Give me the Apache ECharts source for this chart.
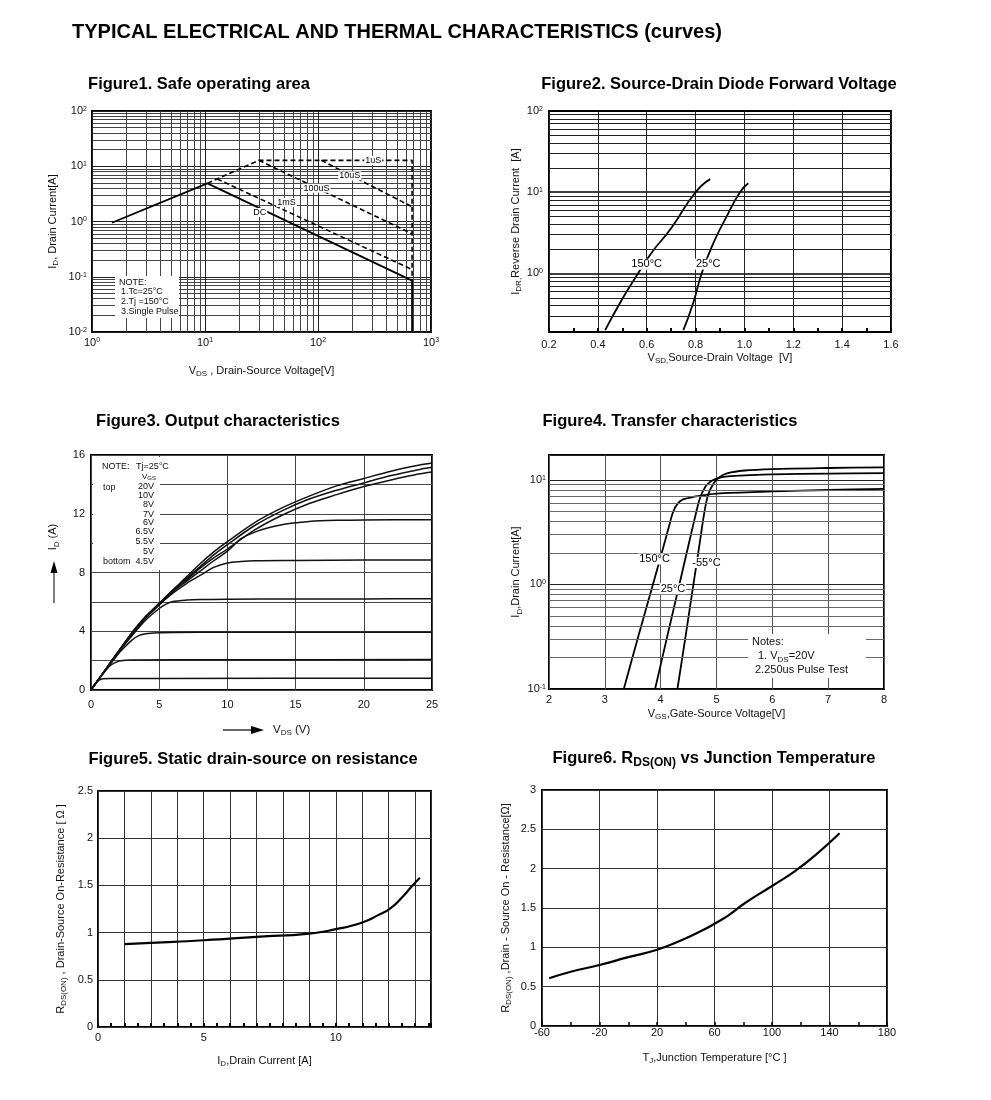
<!DOCTYPE html>
<html><head><meta charset="utf-8">
<script src="https://cdn.jsdelivr.net/npm/echarts@6/dist/echarts.min.js"></script>
<style>html,body{margin:0;padding:0;background:#fff}#c{width:991px;height:1100px}</style>
</head><body><div id="c"></div>
<script>
const FONT = "'Liberation Sans', Arial, sans-serif";

// ---------- Figure 1: Safe operating area (VDS [V], ID [A]) ----------
const soaDC    = [[1.5, 0.95], [10.5, 4.9], [680, 0.085], [680, 0.01]];
const soa1us   = [[10.5, 4.9], [30, 12.8], [680, 12.8], [680, 0.085]];
const soa10us  = [[107, 12.8], [680, 1.85]];
const soa100us = [[30, 12.8], [680, 0.6]];
const soa1ms   = [[12.8, 5.9], [680, 0.135]];
const soaLabelText = ['1uS', '10uS', '100uS', '1mS', 'DC'];
const soaLabelPos  = [[308, 12.8], [191, 6.7], [97, 4.0], [52.6, 2.2], [30.5, 1.46]];
const soaNote = ['NOTE:', '1.Tc=25°C', '2.Tj =150°C', '3.Single Pulse'];

// ---------- Figure 2: Source-drain diode forward voltage ----------
const vsd150 = [[0.43, 0.2], [0.49, 0.43], [0.56, 0.95], [0.62, 1.8], [0.70, 3.6], [0.80, 10], [0.86, 14.5]];
const vsd25  = [[0.75, 0.2], [0.79, 0.43], [0.825, 1.0], [0.873, 2.36], [0.927, 5.0], [0.982, 10], [1.016, 12.9]];
const vsdLabelText = ['150°C', '25°C'];
const vsdLabelPos  = [[0.6, 1.3], [0.852, 1.3]];
const vsdMinorGrid = [0.3, 0.4, 0.5, 0.6, 0.7, 0.8, 0.9, 2, 3, 4, 5, 6, 7, 8, 9, 20, 30, 40, 50, 60, 70, 80, 90];

// ---------- Figure 3: Output characteristics (VDS [V], ID [A]) ----------
const outVgs20  = [[0,0],[1,1.3],[2,2.6],[3,3.9],[4,5.0],[5,5.9],[6,6.8],[7,7.7],[8,8.6],[9,9.4],[10,10.1],[12,11.4],[14,12.4],[16,13.2],[18,13.9],[20,14.4],[22,14.9],[24,15.3],[25,15.45]];
const outVgs10  = [[0,0],[1,1.3],[2,2.6],[3,3.9],[4,5.0],[5,5.9],[6,6.8],[7,7.6],[8,8.4],[9,9.2],[10,9.9],[12,11.2],[14,12.2],[16,13.0],[18,13.6],[20,14.1],[22,14.6],[24,15.0],[25,15.16]];
const outVgs8   = [[0,0],[1,1.3],[2,2.6],[3,3.8],[4,4.9],[5,5.8],[6,6.7],[7,7.5],[8,8.3],[9,9.0],[10,9.6],[12,10.9],[14,11.9],[16,12.7],[18,13.3],[20,13.85],[22,14.3],[24,14.7],[25,14.84]];
const outVgs7   = [[0,0],[1,1.3],[2,2.6],[3,3.8],[4,4.9],[5,5.8],[6,6.7],[7,7.4],[8,8.1],[9,8.8],[10,9.45],[11,10.3],[12,10.75],[13,11.05],[14,11.25],[15,11.38],[16,11.48],[18,11.55],[20,11.58],[25,11.6]];
const outVgs6   = [[0,0],[1,1.3],[2,2.55],[3,3.7],[4,4.75],[5,5.55],[5.5,5.85],[6,6.02],[7,6.12],[8,6.16],[10,6.18],[15,6.2],[20,6.2],[25,6.22]];
const outVgs65  = [[0,0],[1,1.3],[2,2.6],[3,3.8],[4,4.9],[5,5.8],[6,6.6],[7,7.25],[8,7.8],[9,8.35],[10,8.65],[11,8.75],[12,8.8],[15,8.82],[20,8.85],[25,8.85]];
const outVgs55  = [[0,0],[1,1.25],[2,2.45],[2.5,2.95],[3,3.4],[3.5,3.7],[4,3.83],[5,3.9],[6,3.92],[10,3.93],[25,3.93]];
const outVgs5   = [[0,0],[0.5,0.65],[1,1.25],[1.5,1.72],[2,1.95],[2.5,2.03],[3,2.05],[10,2.06],[25,2.07]];
const outVgs45  = [[0,0],[0.3,0.45],[0.6,0.68],[0.9,0.76],[1.5,0.78],[5,0.79],[25,0.8]];
const outVgsLabels = ['20V', '10V', '8V', '7V', '6V', '6.5V', '5.5V', '5V', '4.5V'];

// ---------- Figure 4: Transfer characteristics (VGS [V], ID [A]) ----------
const tr150 = [[3.34,0.1],[3.6,0.32],[3.85,0.95],[4.05,2.3],[4.15,3.6],[4.22,4.9],[4.3,5.9],[4.4,6.5],[4.6,6.9],[5.0,7.4],[6.0,7.75],[7.0,8.0],[8.0,8.2]];
const tr25  = [[3.9,0.1],[4.1,0.29],[4.3,0.83],[4.5,2.4],[4.62,4.5],[4.7,6.6],[4.8,8.6],[4.9,9.7],[5.0,10.3],[5.2,10.8],[5.6,11.1],[6,11.3],[7,11.5],[8,11.6]];
const trM55 = [[4.3,0.1],[4.45,0.33],[4.6,1.12],[4.7,2.5],[4.78,4.8],[4.85,7.2],[4.95,9.3],[5.05,10.6],[5.2,11.6],[5.5,12.3],[6,12.7],[7,13.0],[8,13.2]];
const trLabelText = ['150°C', '25°C', '-55°C'];
const trLabelPos  = [[3.89, 1.75], [4.22, 0.91], [4.82, 1.62]];
const trMinorGrid = [0.2, 0.3, 0.4, 0.5, 0.6, 0.7, 0.8, 0.9, 2, 3, 4, 5, 6, 7, 8, 9];

// ---------- Figure 5: RDS(on) vs ID ----------
const rdsId = [[2.0,0.877],[3.0,0.891],[5.0,0.919],[7.0,0.955],[9.0,0.99],[10.0,1.036],[11.0,1.107],[11.6,1.185],[12.05,1.255],[12.5,1.372],[12.86,1.485],[13.18,1.58]];
const rdsIdTickText = {1: '0', 5: '5', 10: '10'};

// ---------- Figure 6: RDS(on) vs Tj ----------
const rdsTj = [[-55,0.606],[-40,0.69],[-20,0.775],[0,0.875],[20,0.97],[37,1.09],[51,1.21],[60,1.3],[70,1.41],[81,1.56],[100,1.78],[116,1.97],[130,2.17],[147,2.45]];

const figTitles = ['Figure1. Safe operating area', 'Figure2. Source-Drain Diode Forward Voltage',
  'Figure3. Output characteristics', 'Figure4. Transfer characteristics',
  'Figure5. Static drain-source on resistance', '{b|Figure6. R}{bs|DS(ON)}{b| vs Junction Temperature}'];
const mainTitle = 'TYPICAL ELECTRICAL AND THERMAL CHARACTERISTICS (curves)';

// ---------- helpers ----------
function R(size, weight) {
  const w = weight || 'normal';
  return {
    m:   {fontSize: size, fontFamily: FONT, color: '#111', fontWeight: w, verticalAlign: 'top'},
    sub: {fontSize: Math.round(size * 0.72), fontFamily: FONT, color: '#111', fontWeight: w, verticalAlign: 'top', padding: [Math.round(size * 0.42), 0, 0, 0]},
    sup: {fontSize: Math.round(size * 0.68), fontFamily: FONT, color: '#111', fontWeight: w, verticalAlign: 'top'},
    b:   {fontSize: size, fontFamily: FONT, color: '#000', fontWeight: 'bold', verticalAlign: 'top'},
    bs:  {fontSize: Math.round(size * 0.72), fontFamily: FONT, color: '#000', fontWeight: 'bold', verticalAlign: 'top', padding: [Math.round(size * 0.45), 0, 0, 0]}
  };
}
function powLabel(v) {
  const e = Math.log10(v), r = Math.round(e);
  if (Math.abs(e - r) > 1e-6) return '';
  return '{m|10}{sup|' + r + '}';
}
const nameStyle = {color: '#111', fontSize: 11, fontFamily: FONT, rich: R(11)};
const lblStyle = {color: '#111', fontSize: 11, fontFamily: FONT};
function ax(o) {
  return Object.assign({
    axisLine: {show: false}, axisTick: {show: false},
    axisLabel: Object.assign({}, lblStyle),
    splitLine: {show: true, lineStyle: {color: '#333', width: 1}},
    nameLocation: 'middle', nameTextStyle: nameStyle
  }, o);
}
function line(xi, data, extra) {
  return Object.assign({type: 'line', xAxisIndex: xi, yAxisIndex: xi, data: data, symbol: 'none',
    lineStyle: {color: '#000', width: 1.8}, z: 3, silent: true, animation: false}, extra || {});
}
function labels(xi, texts, pos, size) {
  return {type: 'scatter', xAxisIndex: xi, yAxisIndex: xi, symbolSize: 1, itemStyle: {color: '#fff'}, z: 6, silent: true,
    label: {show: true, position: 'inside', formatter: p => p.name, color: '#000', opacity: 1, textBorderWidth: 0,
      fontSize: size, fontFamily: FONT, backgroundColor: '#fff', padding: [0, 1]},
    data: texts.map((t, i) => ({name: t, value: pos[i]}))};
}
function hGrid(xi, vals, color) {
  return {type: 'line', xAxisIndex: xi, yAxisIndex: xi, data: [], z: 1, silent: true, animation: false,
    markLine: {silent: true, symbol: ['none', 'none'], label: {show: false}, animation: false,
      lineStyle: {color: color, width: 1, type: 'solid'}, data: vals.map(v => ({yAxis: v}))}};
}
function txt(x, y, text, size, align, extra) {
  return Object.assign({type: 'text', x: x, y: y, z: 20, style: {text: text, fill: '#111', align: align || 'left',
    verticalAlign: 'middle', fontSize: size, fontFamily: FONT, rich: R(size)}}, extra || {});
}
const dash = {color: '#000', width: 1.6, type: [5, 3]};

const grids = [
  {left: 92, top: 111, width: 339, height: 221},
  {left: 549, top: 111, width: 342, height: 221},
  {left: 91, top: 455, width: 341, height: 235},
  {left: 549, top: 455, width: 335, height: 234},
  {left: 98, top: 791, width: 333, height: 236},
  {left: 542, top: 790, width: 345, height: 236}
].map(g => Object.assign({show: true, borderColor: '#000', borderWidth: 2, containLabel: false, outerBoundsMode: 'none'}, g));

const xAxes = [
  ax({gridIndex: 0, type: 'log', logBase: 10, min: 1, max: 1000,
    axisLabel: Object.assign({}, lblStyle, {formatter: powLabel, rich: R(11), margin: 5}),
    splitLine: {show: true, lineStyle: {color: '#222', width: 1}},
    minorTick: {show: false, splitNumber: 9}, minorSplitLine: {show: true, lineStyle: {color: '#444', width: 1}},
    name: '{m|V}{sub|DS}{m| , Drain-Source Voltage[V]}', nameGap: 33}),
  ax({gridIndex: 1, type: 'value', min: 0.2, max: 1.6, interval: 0.2,
    axisLabel: Object.assign({}, lblStyle, {formatter: v => v.toFixed(1), margin: 7}),
    splitLine: {show: true, lineStyle: {color: '#222', width: 1}},
    minorTick: {show: true, splitNumber: 2, length: 4, lineStyle: {color: '#000', width: 2}},
    axisTick: {show: true, inside: true, length: 4, lineStyle: {color: '#000', width: 2}},
    name: '{m|V}{sub|SD,}{m|Source-Drain Voltage  [V]}', nameGap: 20}),
  ax({gridIndex: 2, type: 'value', min: 0, max: 25, interval: 5,
    axisLabel: Object.assign({}, lblStyle, {margin: 9}),
    splitLine: {show: true, lineStyle: {color: '#444', width: 1}}}),
  ax({gridIndex: 3, type: 'value', min: 2, max: 8, interval: 1,
    axisLabel: Object.assign({}, lblStyle, {margin: 5}),
    splitLine: {show: true, lineStyle: {color: '#555', width: 1}},
    name: '{m|V}{sub|GS}{m|,Gate-Source Voltage[V]}', nameGap: 19}),
  ax({gridIndex: 4, type: 'value', min: 1, max: 13.6, interval: 1,
    axisLabel: Object.assign({}, lblStyle, {margin: 5, showMaxLabel: false, formatter: v => rdsIdTickText[v] || ''}),
    splitLine: {show: true, lineStyle: {color: '#333', width: 1}},
    axisTick: {show: true, inside: true, length: 4, lineStyle: {color: '#000', width: 2}},
    minorTick: {show: true, splitNumber: 2, length: 4, lineStyle: {color: '#000', width: 2}},
    name: '{m|I}{sub|D}{m|,Drain Current [A]}', nameGap: 28}),
  ax({gridIndex: 5, type: 'value', min: -60, max: 180, interval: 40,
    axisLabel: Object.assign({}, lblStyle, {margin: 1}),
    splitLine: {show: true, lineStyle: {color: '#333', width: 1}},
    axisTick: {show: true, inside: true, length: 4, lineStyle: {color: '#000', width: 1.5}},
    minorTick: {show: true, splitNumber: 2, length: 4, lineStyle: {color: '#000', width: 1.5}},
    name: '{m|T}{sub|J}{m|,Junction Temperature [°C ]}', nameGap: 26})
];
const yAxes = [
  ax({gridIndex: 0, type: 'log', logBase: 10, min: 0.01, max: 100,
    axisLabel: Object.assign({}, lblStyle, {formatter: powLabel, rich: R(11), margin: 5}),
    splitLine: {show: true, lineStyle: {color: '#222', width: 1}},
    minorTick: {show: false, splitNumber: 9}, minorSplitLine: {show: true, lineStyle: {color: '#444', width: 1}},
    name: '{m|I}{sub|D}{m|, Drain Current[A]}', nameGap: 32}),
  ax({gridIndex: 1, type: 'log', logBase: 10, min: 0.19, max: 100,
    axisLabel: Object.assign({}, lblStyle, {formatter: powLabel, rich: R(11), margin: 6, showMinLabel: false}),
    splitLine: {show: true, lineStyle: {color: '#000', width: 1.5}},
    name: '{m|I}{sub|DR,}{m|Reverse Drain Current  [A]}', nameGap: 24}),
  ax({gridIndex: 2, type: 'value', min: 0, max: 16, interval: 4,
    axisLabel: Object.assign({}, lblStyle, {margin: 6}),
    splitLine: {show: true, lineStyle: {color: '#444', width: 1}},
    minorTick: {show: false, splitNumber: 2}, minorSplitLine: {show: true, lineStyle: {color: '#444', width: 1}}}),
  ax({gridIndex: 3, type: 'log', logBase: 10, min: 0.1, max: 17.3,
    axisLabel: Object.assign({}, lblStyle, {formatter: powLabel, rich: R(11), margin: 3, showMaxLabel: false}),
    splitLine: {show: true, lineStyle: {color: '#222', width: 1}},
    name: '{m|I}{sub|D}{m|,Drain Current[A]}', nameGap: 24}),
  ax({gridIndex: 4, type: 'value', min: 0, max: 2.5, interval: 0.5,
    axisLabel: Object.assign({}, lblStyle, {margin: 5}),
    splitLine: {show: true, lineStyle: {color: '#333', width: 1}},
    name: '{m|R}{sub|DS(ON)}{m| , Drain-Source On-Resistance [ Ω ]}', nameGap: 30}),
  ax({gridIndex: 5, type: 'value', min: 0, max: 3, interval: 0.5,
    axisLabel: Object.assign({}, lblStyle, {margin: 6}),
    splitLine: {show: true, lineStyle: {color: '#333', width: 1}},
    name: '{m|R}{sub|DS(ON)}{m| ,Drain - Source On - Resistance[Ω]}', nameGap: 29})
];

const sm = {smooth: 0.3};
const smSoft = {smooth: 0.55};
const series = [
  // fig 1
  line(0, soaDC, {lineStyle: {color: '#000', width: 1.8}}),
  line(0, soa1us, {lineStyle: dash}),
  line(0, soa10us, {lineStyle: dash}),
  line(0, soa100us, {lineStyle: dash}),
  line(0, soa1ms, {lineStyle: dash}),
  labels(0, soaLabelText, soaLabelPos, 9),
  // fig 2
  hGrid(1, vsdMinorGrid, '#222'),
  line(1, vsd150, smSoft), line(1, vsd25, smSoft),
  labels(1, vsdLabelText, vsdLabelPos, 11),
  // fig 3
  ...[outVgs20, outVgs10, outVgs8, outVgs7, outVgs65, outVgs6, outVgs55, outVgs5, outVgs45]
    .map(d => line(2, d, Object.assign({lineStyle: {color: '#111', width: 1.5}}, sm))),
  // fig 4
  hGrid(3, trMinorGrid, '#666'),
  line(3, tr150, sm), line(3, tr25, sm), line(3, trM55, sm),
  labels(3, trLabelText, trLabelPos, 11),
  // fig 5
  line(4, rdsId, Object.assign({lineStyle: {color: '#000', width: 2.2}}, smSoft)),
  // fig 6
  line(5, rdsTj, Object.assign({lineStyle: {color: '#000', width: 2.2}}, smSoft))
];

const titlePos = [[199, 84], [719, 84], [218, 421], [670, 421], [253, 759], [714, 759]];
const graphic = [
  {type: 'text', x: 72, y: 32, z: 20, style: {text: mainTitle, fill: '#000', align: 'left', verticalAlign: 'middle',
    font: 'bold 20px ' + FONT}},
  ...figTitles.map((t, i) => ({type: 'text', x: titlePos[i][0], y: titlePos[i][1], z: 20,
    style: {text: t.indexOf('{') === 0 ? t : '{b|' + t + '}', align: 'center', verticalAlign: 'middle', rich: R(16.5, 'bold')}})),
  // fig1 note box
  {type: 'rect', z: 15, shape: {x: 115, y: 276, width: 64, height: 42}, style: {fill: '#fff'}},
  txt(119, 283, soaNote[0], 9), txt(121, 292, soaNote[1], 9), txt(121, 302, soaNote[2], 9), txt(121, 312, soaNote[3], 9),
  // fig3 legend
  {type: 'rect', z: 15, shape: {x: 93, y: 457, width: 67, height: 113}, style: {fill: '#fff'}},
  txt(102, 467, 'NOTE:', 9), txt(136, 467, 'Tj=25°C', 9), txt(149, 477, '{m|V}{sub|GS}', 8, 'center'),
  txt(103, 488, 'top', 9), txt(103, 562, 'bottom', 9),
  ...outVgsLabels.map((t, i) => txt(154, [487, 496, 505, 515, 523, 532, 542, 552, 562][i], t, 9, 'right')),
  // fig3 axis names with arrows
  txt(54, 537, '{m|I}{sub|D}{m| (A)}', 11, 'center', {rotation: Math.PI / 2}),
  {type: 'line', z: 20, shape: {x1: 54, y1: 603, x2: 54, y2: 570}, style: {stroke: '#555', lineWidth: 1.5}},
  {type: 'polygon', z: 20, shape: {points: [[54, 561], [50.5, 573], [57.5, 573]]}, style: {fill: '#000'}},
  {type: 'line', z: 20, shape: {x1: 223, y1: 730, x2: 253, y2: 730}, style: {stroke: '#333', lineWidth: 1.5}},
  {type: 'polygon', z: 20, shape: {points: [[264, 730], [251, 726], [251, 734]]}, style: {fill: '#000'}},
  txt(273, 730, '{m|V}{sub|DS}{m| (V)}', 11.5),
  // fig4 notes
  {type: 'rect', z: 15, shape: {x: 748, y: 634, width: 118, height: 44}, style: {fill: '#fff'}},
  txt(752, 642, 'Notes:', 11), txt(758, 657, '{m|1. V}{sub|DS}{m|=20V}', 11), txt(755, 670, '2.250us Pulse Test', 11)
];

const chart = echarts.init(document.getElementById('c'), null, {renderer: 'canvas'});
chart.setOption({
  animation: false, backgroundColor: '#fff',
  textStyle: {fontFamily: FONT},
  grid: grids, xAxis: xAxes, yAxis: yAxes, series: series, graphic: graphic
});
</script></body></html>
